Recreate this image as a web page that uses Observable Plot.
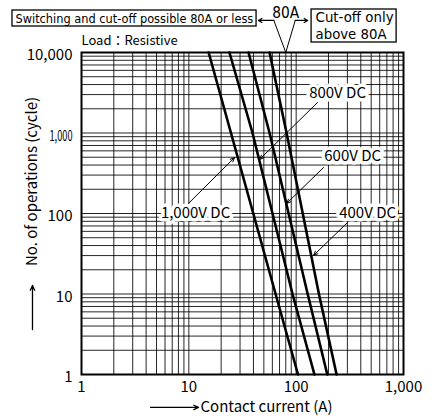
<!DOCTYPE html>
<html><head><meta charset="utf-8">
<script src="https://cdn.jsdelivr.net/npm/d3@7"></script>
<script src="https://cdn.jsdelivr.net/npm/@observablehq/plot@0.6"></script>
<style>
body{margin:0;background:#fff;}
#chart svg{display:block;}
</style></head><body><div id="chart"></div>
<script>
// ---- data ----
const cycles = [10000, 1000, 10, 1];
const seriesNames = ["1,000V DC", "800V DC", "600V DC", "400V DC"];
const current1000V = [15.3, 24.7, 64.3, 104];
const current800V = [23.9, 39.2, 92.5, 148];
const current600V = [36, 56.5, 128, 195];
const current400V = [56.5, 81.4, 163, 238];

const xTicks = [1, 10, 100, 1000];
const xTickLabels = ["1", "10", "100", "1,000"];
const yTicks = [1, 10, 100, 1000, 10000];
const yTickLabels = ["1", "10", "100", "1,000", "10,000"];

// series labels and leaders (data units: current A, cycles)
const labelText = ["1,000V DC", "800V DC", "600V DC", "400V DC"];
const labelX = [11.55, 243, 336, 463];
const labelY = [100, 3090, 511, 100];
const leaderX1 = [9.9, 158, 180, 301];
const leaderY1 = [133, 2393, 373, 77.3];
const leaderX2 = [26.7, 45.6, 81.4, 145];
const leaderY2 = [496, 469, 133, 30.1];

// header annotations (data units, outside the frame)
const thresholdA = 80;
const boxX1 = [0.2275, 139.2];
const boxX2 = [42.75, 862.6];
const boxY1 = [21040, 13310];
const boxY2 = [33240, 34210];
const headerText = ["Switching and cut-off possible 80A or less", "Cut-off only", "above 80A"];
const headerX = [0.2426, 151.6, 151.6];
const headerY = [26450, 27210, 16740];
const thresholdLabelY = 30510;
const vX = [62, 80, 98];
const vY = [25000, 10000, 25000];
const sideArrowX1 = [62, 98];
const sideArrowX2 = [44.5, 128];
const sideArrowY = 25000;

// axis titles
const yTitle = "No. of operations (cycle)";
const xTitle = "Contact current (A)";
const loadText = "Load：Resistive";

const rows = [];
const curves = [current1000V, current800V, current600V, current400V];
seriesNames.forEach((s, k) => cycles.forEach((c, i) => rows.push({series: s, current: curves[k][i], cycles: c})));
const idx4 = d3.range(labelText.length);

const font = "'Noto Sans CJK JP', 'Noto Sans', sans-serif";
const narrow = "'Liberation Sans Narrow', 'DejaVu Sans Condensed', 'Liberation Sans', sans-serif";

const chart = Plot.plot({
  width: 436, height: 416,
  marginLeft: 81, marginRight: 33, marginTop: 52, marginBottom: 42,
  style: {fontFamily: font, fontSize: "15px", color: "#000", background: "#fff", overflow: "visible"},
  x: {type: "log", domain: [1, 1000], label: null},
  y: {type: "log", domain: [1, 10000], label: null},
  marks: [
    Plot.gridX(d3.scaleLog().domain([1, 1000]).ticks(), {stroke: "#000", strokeOpacity: 0.85, strokeWidth: 1}),
    Plot.gridY(d3.scaleLog().domain([1, 10000]).ticks(), {stroke: "#000", strokeOpacity: 0.85, strokeWidth: 1}),
    Plot.line(rows, {x: "current", y: "cycles", z: "series", stroke: "#000", strokeWidth: 2.6}),
    Plot.frame({stroke: "#000", strokeWidth: 2}),
    Plot.arrow(idx4, {x1: i => leaderX1[i], y1: i => leaderY1[i], x2: i => leaderX2[i], y2: i => leaderY2[i],
      stroke: "#000", strokeWidth: 1, headLength: 7, headAngle: 45}),
    Plot.text(idx4, {x: i => labelX[i], y: i => labelY[i], text: i => labelText[i],
      fill: "#000", stroke: "#fff", strokeWidth: 7, fontSize: 15}),
    Plot.axisX(xTicks, {tickFormat: d => xTickLabels[xTicks.indexOf(d)], tickSize: 0, tickPadding: 7, fontSize: 15, label: null}),
    Plot.axisY(yTicks, {tickFormat: d => yTickLabels[yTicks.indexOf(d)], tickSize: 0, tickPadding: 9, fontSize: 15, dy: 3, label: null}),
    // header
    Plot.rect([0, 1], {x1: i => boxX1[i], x2: i => boxX2[i], y1: i => boxY1[i], y2: i => boxY2[i],
      fill: "#fff", stroke: "#000", strokeWidth: 1.3}),
    Plot.text([0, 1, 2], {x: i => headerX[i], y: i => headerY[i], text: i => headerText[i],
      textAnchor: "start", fontSize: 15, fontFamily: narrow, fill: "#000"}),
    Plot.text([thresholdA], {x: d => d, y: [thresholdLabelY], text: ["80A"], fontSize: 15, fontFamily: narrow, fill: "#000"}),
    Plot.line(vX.map((x, i) => ({x, y: vY[i]})), {x: "x", y: "y", stroke: "#000", strokeWidth: 1}),
    Plot.arrow([0, 1], {x1: i => sideArrowX1[i], x2: i => sideArrowX2[i], y1: sideArrowY, y2: sideArrowY,
      stroke: "#000", strokeWidth: 1.2, headLength: 5, headAngle: 60}),
    Plot.text([loadText], {x: [1], y: [14090], text: d => d, textAnchor: "start", fontSize: 13, fill: "#000"}),
    // axis titles
    Plot.text([yTitle], {x: [0.3494], y: [250], text: d => d, rotate: -90, fontSize: 15, fill: "#000"}),
    Plot.arrow([0], {x1: 0.3494, x2: 0.3494, y1: 3.62, y2: 12.75, stroke: "#000", strokeWidth: 1.3, headLength: 6, headAngle: 50}),
    Plot.arrow([0], {x1: 4.40, x2: 12.31, y1: 0.39, y2: 0.39, stroke: "#000", strokeWidth: 1.3, headLength: 6, headAngle: 50}),
    Plot.text([xTitle], {x: [12.85], y: [0.39], text: d => d, textAnchor: "start", fontSize: 15, fill: "#000"})
  ]
});
document.getElementById("chart").appendChild(chart);

// fit condensed texts to the widths seen in the reference by adjusting font size
const widths = {
  "Switching and cut-off possible 80A or less": 238,
  "Cut-off only": 78,
  "above 80A": 71,
  "80A": 27
};
d3.select(chart).selectAll("text").each(function() {
  const t = this.textContent;
  if (widths[t]) {
    const w = this.getComputedTextLength();
    const fs = parseFloat(getComputedStyle(this).fontSize) || 15;
    if (w > 0) this.style.fontSize = Math.min(16, fs * widths[t] / w).toFixed(2) + "px";
  }
});
d3.select(chart).selectAll("[aria-label='y-axis tick label'] text").each(function() {
  if (this.textContent === "1,000") { this.setAttribute("textLength", 23); this.setAttribute("lengthAdjust", "spacingAndGlyphs"); }
});
</script></body></html>
